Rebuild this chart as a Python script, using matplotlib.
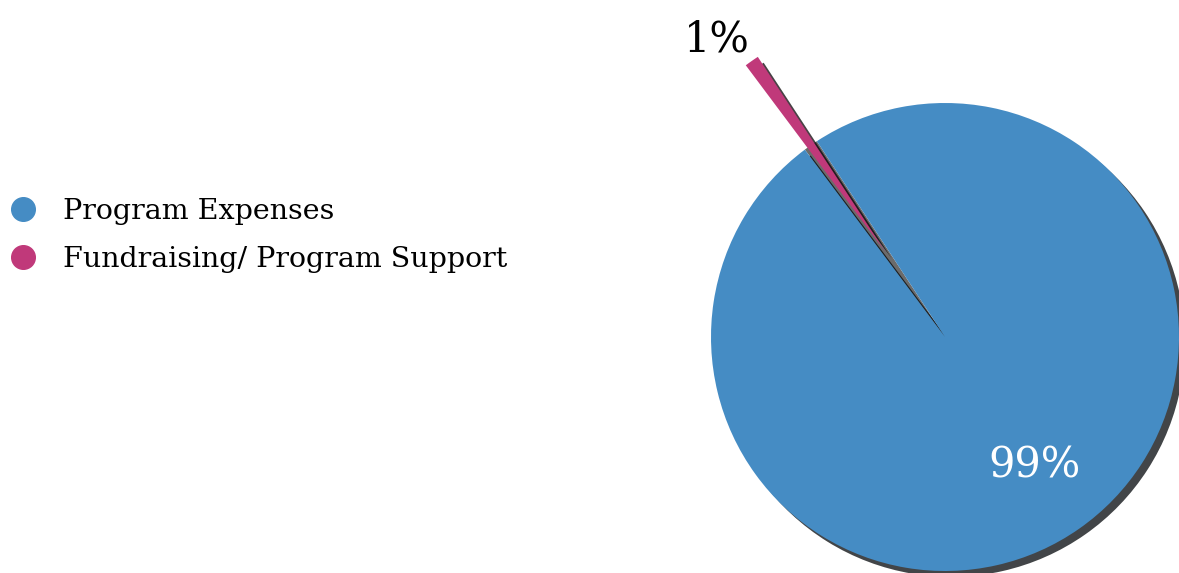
import numpy as np
import matplotlib.pyplot as plt
from matplotlib.patches import Wedge
from matplotlib.lines import Line2D

labels = ["Program Expenses", "Fundraising/ Program Support"]
values = [99, 1]
colors = ["#458cc4", "#c0397a"]
explode = [0, 0.44]

plt.rcParams["font.family"] = ["DejaVu Serif"]

fig = plt.figure(figsize=(11.79, 5.73), dpi=100)
ax = fig.add_axes([0, 0, 1, 1])

wedges, texts, pcts = ax.pie(
    values, colors=colors, explode=explode, startangle=126.8,
    autopct=lambda p: f"{p:.0f}%", pctdistance=0.67,
    shadow={"ox": 0.018, "oy": -0.018, "shade": 0.95, "alpha": 0.75},
    textprops=dict(fontsize=30, color="white"),
    wedgeprops=dict(linewidth=0),
)

# gap left by the pulled out slice
w = wedges[1]
gap = Wedge((0, 0), 1, w.theta1, w.theta2, color="#6b6b6b", linewidth=0, zorder=0.95)
ax.add_patch(gap)

# move the small slice's label outside
mid = np.deg2rad((w.theta1 + w.theta2) / 2 + 2.5)
r = explode[1] + 1.16
pcts[1].set_position((r * np.cos(mid), r * np.sin(mid)))
pcts[1].set_color("black")

# pixel-to-data mapping: center at (945, 337), radius 234 px
ax.set_xlim(-945 / 234, (1179 - 945) / 234)
ax.set_ylim(-(573 - 337) / 234, 337 / 234)
ax.set_aspect("auto")
ax.axis("off")

handles = [Line2D([], [], marker="o", ls="", markersize=17, color=c) for c in colors]
ax.legend(handles, labels, loc="center left", bbox_to_anchor=(0.0075, 0.589),
          bbox_transform=fig.transFigure, frameon=False, borderpad=0, borderaxespad=0,
          handlelength=1.0, handletextpad=0.9, labelspacing=0.76, fontsize=20.5)

fig.savefig("out.png", dpi=100)
